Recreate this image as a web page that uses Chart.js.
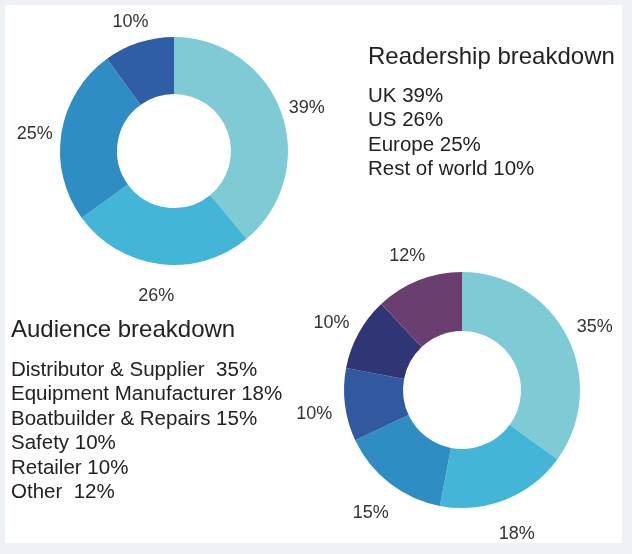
<!DOCTYPE html>
<html>
<head>
<meta charset="utf-8">
<script src="https://cdn.jsdelivr.net/npm/chart.js@4"></script>
<style>
  html, body { margin:0; padding:0; }
  body { width:632px; height:554px; background:#eef2f7; position:relative; overflow:hidden;
         font-family:"Liberation Sans", Arial, sans-serif; color:#222; }
  #panel { position:absolute; left:5px; top:5px; width:617px; height:538px; background:#fff; }
  canvas { position:absolute; left:0; top:0; }
  .blk { position:absolute; white-space:pre; }
  .ttl { font-size:24px; line-height:28px; }
  .itm { font-size:20.5px; line-height:24.4px; }
</style>
</head>
<body>
<div id="panel"></div>
<canvas id="top" width="632" height="554"></canvas>
<canvas id="bottom" width="632" height="554"></canvas>
<div class="blk" id="readBox" style="left:368px; top:42px;"></div>
<div class="blk" id="audBox" style="left:11px; top:315px;"></div>
<script>
// --- data ---
const readLabels = ["UK", "US", "Europe", "Rest of world"];
const readValues = [39, 26, 25, 10];
const readColors = ["#7ecbd6", "#43b6d7", "#2e8dc2", "#2f5ea6"];

const audLabels = ["Distributor & Supplier", "Equipment Manufacturer", "Boatbuilder & Repairs", "Safety", "Retailer", "Other"];
const audValues = [35, 18, 15, 10, 10, 12];
const audSep    = ["  ", " ", " ", " ", " ", "  "];
const audColors = ["#7ecbd6", "#43b6d7", "#2e8dc2", "#32599f", "#2f3575", "#6b3e70"];

const readTitle = "Readership breakdown";
const audTitle  = "Audience breakdown";

// --- outside % labels ---
const outLabels = {
  id: "outLabels",
  afterDraw(chart, args, opts) {
    const ctx = chart.ctx;
    const meta = chart.getDatasetMeta(0);
    const vals = chart.data.datasets[0].data;
    ctx.save();
    ctx.font = "18px 'Liberation Sans', Arial, sans-serif";
    ctx.fillStyle = "#333";
    ctx.textAlign = "center";
    ctx.textBaseline = "middle";
    meta.data.forEach((arc, i) => {
      const p = arc.getProps(["x","y","startAngle","endAngle","outerRadius"], true);
      const a = (p.startAngle + p.endAngle) / 2;
      const r = p.outerRadius + opts.offset;
      ctx.fillText(vals[i] + "%", p.x + Math.cos(a)*r, p.y + Math.sin(a)*r + 5);
    });
    ctx.restore();
  }
};

function donut(id, labels, values, colors, pad, offset) {
  return new Chart(document.getElementById(id), {
    type: "doughnut",
    data: { labels, datasets: [{ data: values, backgroundColor: colors, borderWidth: 0 }] },
    options: {
      responsive: false, animation: false, devicePixelRatio: 1,
      cutout: "50%",
      layout: { padding: pad },
      plugins: { legend: { display: false }, tooltip: { enabled: false }, outLabels: { offset } }
    },
    plugins: [outLabels]
  });
}

donut("top", readLabels, readValues, readColors, { left: 60, right: 344, top: 37, bottom: 289 }, 27);
donut("bottom", audLabels, audValues, audColors, { left: 344, right: 52, top: 272, bottom: 46 }, 31);

// --- text blocks ---
function fill(box, title, lines, gap) {
  const el = document.getElementById(box);
  const t = document.createElement("div");
  t.className = "ttl"; t.textContent = title; t.style.marginBottom = gap + "px";
  el.appendChild(t);
  lines.forEach(s => {
    const d = document.createElement("div");
    d.className = "itm"; d.textContent = s;
    el.appendChild(d);
  });
}
fill("readBox", readTitle, readLabels.map((l, i) => l + " " + readValues[i] + "%"), 13);
fill("audBox", audTitle, audLabels.map((l, i) => l + audSep[i] + audValues[i] + "%"), 14);
</script>
</body>
</html>
